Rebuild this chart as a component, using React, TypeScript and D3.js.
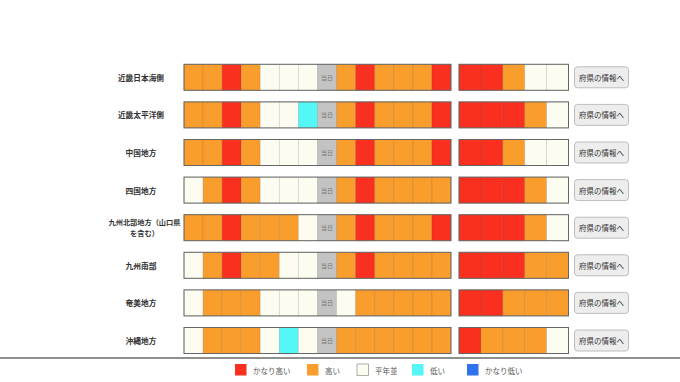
import React from "react";
import * as d3 from "d3";

// 4=かなり高い 3=高い 2=平年並 1=低い 0=かなり低い -1=当日
const regions = ["近畿日本海側", "近畿太平洋側", "中国地方", "四国地方", "九州北部地方（山口県を含む）", "九州南部", "奄美地方", "沖縄地方"];
const regionLines = [["近畿日本海側"], ["近畿太平洋側"], ["中国地方"], ["四国地方"], ["九州北部地方（山口県", "を含む）"], ["九州南部"], ["奄美地方"], ["沖縄地方"]];

const pastDays = [
  [3, 3, 4, 3, 2, 2, 2, -1, 3, 4, 3, 3, 3, 4],
  [3, 3, 4, 3, 2, 2, 1, -1, 3, 4, 3, 3, 3, 4],
  [3, 3, 4, 3, 2, 2, 2, -1, 3, 4, 3, 3, 3, 4],
  [2, 3, 4, 3, 2, 2, 2, -1, 3, 4, 3, 3, 3, 3],
  [3, 3, 4, 3, 3, 3, 2, -1, 3, 4, 3, 3, 3, 4],
  [2, 3, 4, 3, 3, 2, 2, -1, 3, 4, 3, 3, 3, 3],
  [2, 3, 3, 3, 2, 2, 2, -1, 2, 3, 3, 3, 3, 3],
  [2, 3, 3, 3, 2, 1, 2, -1, 3, 3, 3, 3, 3, 3],
];
const forecastDays = [
  [4, 4, 3, 2, 2],
  [4, 4, 4, 3, 2],
  [4, 4, 3, 2, 2],
  [4, 4, 4, 3, 2],
  [4, 4, 4, 3, 2],
  [4, 4, 4, 3, 3],
  [4, 4, 3, 3, 3],
  [4, 3, 3, 3, 2],
];
const legendLabels = ["かなり高い", "高い", "平年並", "低い", "かなり低い"];
const legendCodes = [4, 3, 2, 1, 0];
const todayLabel = "当日";
const buttonLabel = "府県の情報へ";

const colorOf = (v: number) =>
  v === 4 ? "#f9301f" : v === 3 ? "#f99d2c" : v === 2 ? "#fcfcf0" : v === 1 ? "#55f6f6" : v === 0 ? "#2f74ee" : "#c3c3c3";

export default function App() {
  const W = 680, H = 382;
  const y = d3.scaleBand<number>().domain(d3.range(regions.length)).range([58.5, 58.5 + 8 * 37.6]).paddingInner(0.308).paddingOuter(0.154);
  const xL = d3.scaleBand<number>().domain(d3.range(14)).range([184, 451]);
  const xR = d3.scaleBand<number>().domain(d3.range(5)).range([459, 568.5]);
  const legendX = d3.scaleOrdinal<number, number>().domain(d3.range(5)).range([235, 307, 357, 412, 467]);
  const font = "'Noto Sans CJK JP', 'Noto Sans', sans-serif";
  const bh = y.bandwidth();

  return (
    <div style={{ position: "fixed", left: 0, top: 0 }}>
      <svg width={W} height={H} style={{ display: "block", background: "#fff" }} fontFamily={font}>
        {regions.map((r, i) => {
          const top = y(i)!;
          const cy = top + bh / 2;
          const lines = regionLines[i];
          const multi = lines.length > 1;
          return (
            <g key={r}>
              {lines.map((ln, k) => (
                <text key={k} x={multi ? 144.5 : 141} y={cy + (multi ? (k === 0 ? -6 : 5.5) : 0)}
                  textAnchor="middle" dominantBaseline="central" fontSize={multi ? 7.2 : 7.7} fontWeight="bold" fill="#333">{ln}</text>
              ))}
              {pastDays[i].map((v, j) => (
                <g key={"p" + j}>
                  <rect x={xL(j)!} y={top} width={xL.bandwidth()} height={bh} fill={colorOf(v)} stroke="rgba(0,0,0,0.12)" strokeWidth={0.8} />
                  {v === -1 && (
                    <text x={xL(j)! + xL.bandwidth() / 2} y={cy} textAnchor="middle" dominantBaseline="central" fontSize={6} fill="#777">{todayLabel}</text>
                  )}
                </g>
              ))}
              <rect x={184} y={top} width={451 - 184} height={bh} fill="none" stroke="#666" strokeWidth={1} />
              {forecastDays[i].map((v, j) => (
                <rect key={"f" + j} x={xR(j)!} y={top} width={xR.bandwidth()} height={bh} fill={colorOf(v)} stroke="rgba(0,0,0,0.12)" strokeWidth={0.8} />
              ))}
              <rect x={459} y={top} width={568.5 - 459} height={bh} fill="none" stroke="#666" strokeWidth={1} />
              <rect x={574.5} y={cy - 10.5} width={54} height={21} rx={3} fill="#ededed" stroke="#bdbdbd" strokeWidth={1} />
              <text x={601.5} y={cy} textAnchor="middle" dominantBaseline="central" fontSize={7.5} fill="#333">{buttonLabel}</text>
            </g>
          );
        })}
        <line x1={0} x2={W} y1={358} y2={358} stroke="#6a6a6a" strokeWidth={1.5} />
        {legendLabels.map((l, i) => (
          <g key={l}>
            <rect x={legendX(i)} y={364} width={11.5} height={11.5} fill={colorOf(legendCodes[i])} stroke={legendCodes[i] === 2 ? "#999" : "none"} strokeWidth={0.8} />
            <text x={legendX(i) + 18} y={370} dominantBaseline="central" fontSize={7.5} fill="#555">{l}</text>
          </g>
        ))}
      </svg>
    </div>
  );
}
